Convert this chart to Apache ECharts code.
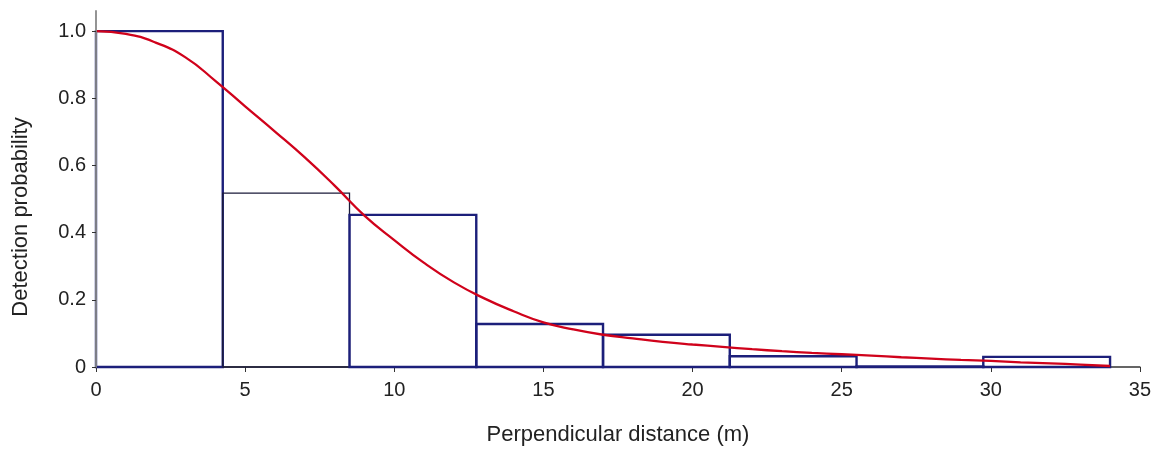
<!DOCTYPE html>
<html>
<head>
<meta charset="utf-8">
<script src="https://cdn.jsdelivr.net/npm/echarts@6/dist/echarts.min.js"></script>
<style>
  html, body { margin: 0; padding: 0; background: #fff; }
  #chart { width: 1154px; height: 451px; }
</style>
</head>
<body>
<div id="chart"></div>
<script>
// histogram bins (distance, m) and observed detection proportion
var binStart = [0, 4.25, 8.5, 12.75, 17, 21.25, 25.5, 29.75];
var binEnd = [4.25, 8.5, 12.75, 17, 21.25, 25.5, 29.75, 34];
var binHeight = [1.0, 0.518, 0.453, 0.128, 0.096, 0.032, 0.002, 0.03];

// fitted detection function, every metre
var curveX = [0, 1, 2, 3, 4, 5, 6, 7, 8, 9, 10, 11, 12, 13, 14, 15, 16,
  17, 18, 19, 20, 21, 22, 23, 24, 25, 26, 27, 28, 29, 30, 31, 32, 33, 34];
var curveY = [1.0, 0.992, 0.966, 0.922, 0.852, 0.776, 0.701, 0.624, 0.54, 0.451, 0.378, 0.31, 0.252,
  0.205, 0.166, 0.133, 0.112, 0.096, 0.085, 0.075, 0.067, 0.06, 0.053, 0.047, 0.042, 0.038,
  0.034, 0.029, 0.025, 0.021, 0.018, 0.014, 0.011, 0.007, 0.003];

var yTicks = [0, 0.2, 0.4, 0.6, 0.8, 1.0];

var myChart = echarts.init(document.getElementById('chart'));

var bins = binStart.map(function (s, i) { return [s, binEnd[i], binHeight[i]]; });
var curve = curveX.map(function (x, i) { return [x, curveY[i]]; });

var font = 'Liberation Sans, Arial, sans-serif';

var option = {
  animation: false,
  grid: { left: 96, right: 13, top: 11, bottom: 82 },
  xAxis: {
    type: 'value',
    min: 0,
    max: 35,
    interval: 5,
    splitLine: { show: false },
    axisLine: { lineStyle: { color: '#333', width: 1.5 } },
    axisTick: { length: 5, lineStyle: { color: '#333' } },
    axisLabel: { color: '#222', fontSize: 20, fontFamily: font, margin: 13 },
    name: 'Perpendicular distance (m)',
    nameLocation: 'middle',
    nameGap: 57,
    nameTextStyle: { color: '#222', fontSize: 22, fontFamily: font }
  },
  yAxis: {
    type: 'value',
    min: 0,
    max: 1.06,
    z: 4,
    splitLine: { show: false },
    axisLine: { show: true, lineStyle: { color: '#888', width: 1.8 } },
    axisTick: { show: true, length: 4, customValues: yTicks, lineStyle: { color: '#333' } },
    axisLabel: {
      color: '#222', fontSize: 20, fontFamily: font, margin: 10,
      customValues: yTicks,
      formatter: function (v) { return v === 0 ? '0' : v.toFixed(1); }
    }
  },
  graphic: [{
    type: 'text',
    x: 21,
    y: 217,
    rotation: Math.PI / 2,
    style: {
      text: 'Detection probability',
      fill: '#222',
      font: '22px ' + font,
      textAlign: 'center',
      textVerticalAlign: 'middle'
    }
  }],
  series: [
    {
      type: 'custom',
      data: bins,
      renderItem: function (params, api) {
        var p0 = api.coord([api.value(0), api.value(2)]);
        var p1 = api.coord([api.value(1), 0]);
        var thin = params.dataIndex === 1;
        return {
          type: 'rect',
          shape: { x: p0[0], y: p0[1], width: p1[0] - p0[0], height: p1[1] - p0[1] },
          style: {
            fill: 'none',
            stroke: thin ? '#1b1b3a' : '#1c1f7a',
            lineWidth: thin ? 1.3 : 2.4
          }
        };
      },
      z: 2
    },
    {
      type: 'line',
      data: curve,
      smooth: true,
      showSymbol: false,
      lineStyle: { color: '#d0021b', width: 2.3 },
      z: 3
    }
  ]
};

myChart.setOption(option);
</script>
</body>
</html>
